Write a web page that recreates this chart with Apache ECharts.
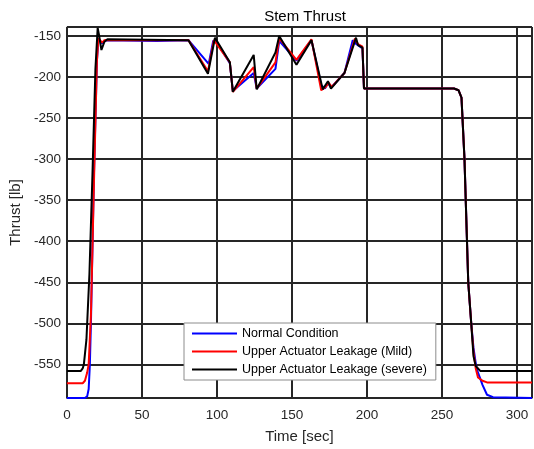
<!DOCTYPE html>
<html>
<head>
<meta charset="utf-8">
<script src="https://cdn.jsdelivr.net/npm/echarts@6/dist/echarts.min.js"></script>
<style>
  html, body { margin: 0; padding: 0; background: #fff; }
  #chart { width: 534px; height: 449px; }
</style>
</head>
<body>
<div id="chart"></div>
<script>
// 数据：时间 [sec] 与推力 [lb]
var seriesNames = ['Normal Condition', 'Upper Actuator Leakage (Mild)', 'Upper Actuator Leakage (severe)'];
var seriesColors = ['#0000ff', '#ff0000', '#000000'];

var normalTime = [0, 12, 13.5, 14.5, 15.3, 16, 18, 20, 21, 22, 23.5, 26, 60, 81, 94.5, 97.5, 99, 108.6, 110.6, 124.5, 126.5, 139, 141.5, 153, 163, 169.5, 172, 174, 176, 185, 190.5, 193, 197, 198, 258, 261, 263, 265, 267.5, 269.5, 271, 273, 275, 277, 280, 284, 310];
var normalThrust = [-591, -591, -589, -580, -550, -500, -320, -180, -153, -156, -159, -155, -156, -155, -184, -156, -155, -183, -217, -195, -214, -190, -156, -180, -155, -210, -214, -207, -213, -195, -155, -160, -165, -214, -214, -216, -225, -300, -450, -500, -530, -555, -565, -575, -587, -590, -591];

var mildTime = [0, 10.5, 12, 13.5, 14.5, 16, 18, 20, 21, 22, 23.5, 25, 81, 94, 98, 99, 108.6, 110.6, 124.5, 126.5, 139, 141.5, 153, 163, 169.5, 172.5, 174.5, 176.5, 185, 192, 194, 197, 198, 258, 261, 263, 265, 267.5, 269.5, 271, 272.5, 274, 277, 280, 310];
var mildThrust = [-573, -573, -570, -560, -550, -490, -330, -180, -153, -155, -158, -155, -155, -193, -155, -153, -182, -218, -188, -214, -182, -153, -179, -154, -216, -212, -207, -212, -195, -153, -160, -163, -214, -214, -216, -225, -300, -450, -500, -535, -555, -566, -570, -572, -572];

var severeTime = [0, 9.3, 10.5, 11.3, 13, 15, 17, 19, 20.5, 21.5, 23, 25, 27, 81, 94, 98.7, 108.6, 110.6, 124.5, 126.5, 139, 141.5, 153, 163, 170.5, 174, 176, 185, 192.7, 194, 197, 198, 258, 261, 263, 265, 267.5, 269.5, 271, 272.5, 275.5, 310];
var severeThrust = [-558, -558, -555, -550, -520, -440, -320, -190, -140, -150, -167, -157, -154, -155, -196, -152, -182, -218, -173, -215, -170, -150, -185, -155, -215, -205, -214, -195, -152, -161, -164, -214, -214, -216, -225, -300, -450, -500, -540, -552, -558, -558];

function toPairs(ts, ys) {
    var arr = [];
    for (var i = 0; i < ts.length; i++) {
        arr.push([ts[i], ys[i]]);
    }
    return arr;
}

var allData = [
    toPairs(normalTime, normalThrust),
    toPairs(mildTime, mildThrust),
    toPairs(severeTime, severeThrust)
];

var fontName = '"Liberation Sans", Arial, sans-serif';
var gridColor = '#262626';

var myChart = echarts.init(document.getElementById('chart'), null, { renderer: 'canvas' });

var seriesList = [];
for (var k = 0; k < seriesNames.length; k++) {
    seriesList.push({
        name: seriesNames[k],
        type: 'line',
        data: allData[k],
        showSymbol: false,
        symbol: 'none',
        animation: false,
        lineStyle: { color: seriesColors[k], width: 2 },
        itemStyle: { color: seriesColors[k] },
        z: 3 + k
    });
}

var option = {
    animation: false,
    backgroundColor: '#ffffff',
    title: {
        text: 'Stem Thrust',
        left: 300,
        textAlign: 'center',
        top: 4,
        textStyle: { fontFamily: fontName, fontSize: 15, fontWeight: 'normal', color: '#000' }
    },
    legend: {
        orient: 'vertical',
        left: 184,
        top: 323,
        padding: [4, 9, 4, 8],
        itemWidth: 45,
        itemHeight: 2,
        itemGap: 5,
        icon: 'rect',
        backgroundColor: '#ffffff',
        borderColor: '#8c8c8c',
        borderWidth: 1,
        borderRadius: 0,
        textStyle: { fontFamily: fontName, fontSize: 12.5, color: '#000' },
        data: seriesNames
    },
    grid: {
        left: 64,
        right: 2,
        top: 27,
        bottom: 50,
        show: true,
        borderColor: gridColor,
        borderWidth: 1
    },
    xAxis: {
        type: 'value',
        min: 0,
        max: 310,
        minInterval: 50,
        maxInterval: 50,
        name: 'Time [sec]',
        nameLocation: 'middle',
        nameGap: 31,
        nameTextStyle: { fontFamily: fontName, fontSize: 15, color: '#262626' },
        axisLine: { show: true, lineStyle: { color: gridColor, width: 1 } },
        axisTick: { show: false },
        axisLabel: { fontFamily: fontName, fontSize: 13.5, color: '#262626', margin: 10, showMaxLabel: false },
        splitLine: { show: true, lineStyle: { color: gridColor, width: 2 } }
    },
    yAxis: {
        type: 'value',
        min: -591,
        max: -139,
        minInterval: 50,
        maxInterval: 50,
        name: 'Thrust [lb]',
        nameLocation: 'middle',
        nameGap: 42,
        nameTextStyle: { fontFamily: fontName, fontSize: 15, color: '#262626' },
        axisLine: { show: true, lineStyle: { color: gridColor, width: 1 } },
        axisTick: { show: false },
        axisLabel: { fontFamily: fontName, fontSize: 13.5, color: '#262626', margin: 6, showMinLabel: false, showMaxLabel: false },
        splitLine: { show: true, lineStyle: { color: gridColor, width: 2 } }
    },
    series: seriesList
};

myChart.setOption(option);
</script>
</body>
</html>
